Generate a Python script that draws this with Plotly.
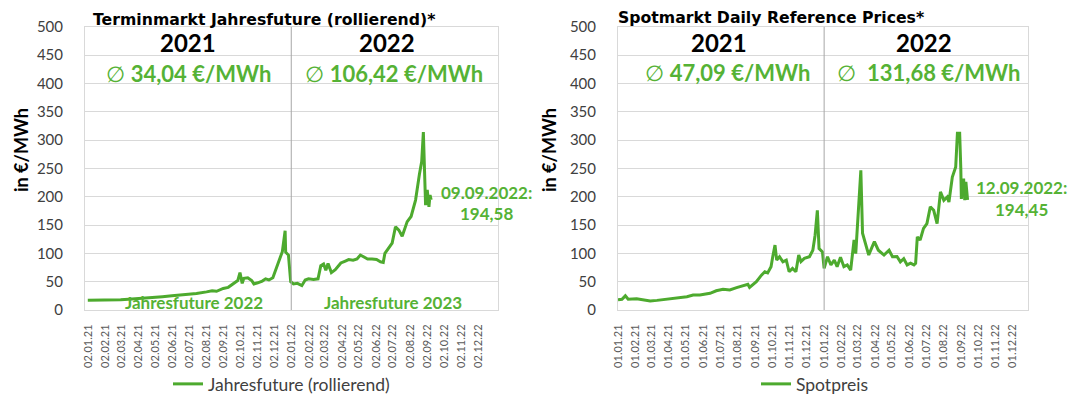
import pandas as pd
import plotly.graph_objects as go

W, H = 1068, 396
GREEN = "#4DAA2E"
GREEN_TXT = "#55B235"
GRID = "#D9D9D9"
AXIS_TXT = "#404040"
FONT = "Lato"
TITLE_FONT = "DejaVu Sans"

# Jahresfuture (rollierend), EUR/MWh
future_dates = [
    "2021-01-01", "2021-01-15", "2021-02-01", "2021-02-15", "2021-03-01", "2021-03-15",
    "2021-04-01", "2021-04-15", "2021-05-01", "2021-05-15", "2021-06-01", "2021-06-15",
    "2021-07-01", "2021-07-15", "2021-08-02", "2021-08-12", "2021-08-20", "2021-09-01",
    "2021-09-10", "2021-09-20", "2021-09-27", "2021-10-01", "2021-10-05", "2021-10-08",
    "2021-10-15", "2021-10-22", "2021-10-26", "2021-11-02", "2021-11-10", "2021-11-16",
    "2021-11-22", "2021-11-29", "2021-12-03", "2021-12-08", "2021-12-13", "2021-12-16",
    "2021-12-21", "2021-12-22", "2021-12-27", "2021-12-31", "2022-01-05", "2022-01-12",
    "2022-01-20", "2022-01-26", "2022-02-01", "2022-02-10", "2022-02-18", "2022-02-23",
    "2022-02-28", "2022-03-04", "2022-03-08", "2022-03-14", "2022-03-21", "2022-03-28",
    "2022-03-31", "2022-04-07", "2022-04-14", "2022-04-22", "2022-04-29", "2022-05-05",
    "2022-05-12", "2022-05-18", "2022-05-26", "2022-06-03", "2022-06-10", "2022-06-15",
    "2022-06-18", "2022-06-25", "2022-07-01", "2022-07-07", "2022-07-13", "2022-07-19",
    "2022-07-28", "2022-08-04", "2022-08-12", "2022-08-19", "2022-08-23", "2022-08-26",
    "2022-08-30", "2022-09-02", "2022-09-05", "2022-09-07", "2022-09-09",
]
future_values = [
    17, 17, 17.5, 17.5, 18, 19,
    20, 21, 22, 23.5, 25, 26,
    27.5, 29, 32, 34, 33, 38,
    40, 47, 52, 66, 47, 56,
    57, 52, 46, 48, 51, 55,
    53, 57, 68, 80, 95, 103,
    140, 102, 97, 50, 46, 47,
    43, 53, 55, 54, 55, 78,
    81, 70, 82, 66, 71, 80,
    83, 86, 89, 88, 90, 97,
    93, 90, 90, 89, 85, 84,
    100, 109, 118, 147, 141, 130,
    156, 165, 194, 240, 262, 314,
    185, 212, 182, 203, 194.58,
]

# Spotpreis (Daily Reference Price), EUR/MWh
spot_dates = [
    "2021-01-01", "2021-01-08", "2021-01-14", "2021-01-19", "2021-02-03", "2021-02-15",
    "2021-02-27", "2021-03-11", "2021-03-28", "2021-04-15", "2021-05-03", "2021-05-14",
    "2021-05-26", "2021-06-13", "2021-06-24", "2021-07-06", "2021-07-18", "2021-07-30",
    "2021-08-11", "2021-08-19", "2021-08-22", "2021-09-03", "2021-09-12", "2021-09-18",
    "2021-09-23", "2021-09-29", "2021-10-02", "2021-10-06", "2021-10-09", "2021-10-14",
    "2021-10-20", "2021-10-26", "2021-10-31", "2021-11-06", "2021-11-12", "2021-11-17",
    "2021-11-21", "2021-11-27", "2021-12-06", "2021-12-12", "2021-12-16", "2021-12-20",
    "2021-12-23", "2021-12-29", "2022-01-01", "2022-01-07", "2022-01-13", "2022-01-19",
    "2022-01-24", "2022-01-30", "2022-02-05", "2022-02-11", "2022-02-17", "2022-02-23",
    "2022-02-26", "2022-03-02", "2022-03-07", "2022-03-10", "2022-03-15", "2022-03-21",
    "2022-03-27", "2022-03-31", "2022-04-07", "2022-04-17", "2022-04-26", "2022-05-02",
    "2022-05-10", "2022-05-16", "2022-05-22", "2022-05-28", "2022-06-03", "2022-06-09",
    "2022-06-12", "2022-06-15", "2022-06-20", "2022-06-26", "2022-07-02", "2022-07-08",
    "2022-07-14", "2022-07-20", "2022-07-26", "2022-08-01", "2022-08-07", "2022-08-10",
    "2022-08-16", "2022-08-22", "2022-08-25", "2022-08-29", "2022-08-31", "2022-09-01",
    "2022-09-05", "2022-09-07", "2022-09-09", "2022-09-12",
]
spot_values = [
    18, 19, 25, 19, 20, 18,
    16, 17, 19.5, 21.5, 23.5, 26.5,
    26.5, 29.5, 34, 36.5, 35.5, 39.5,
    42.5, 45.5, 40, 50, 61.5, 67.5,
    65.5, 76.5, 94, 114.5, 88, 94,
    85, 88, 67.5, 73.5, 67.5, 97,
    85.5, 91, 94, 105.5, 132, 176,
    108.5, 102.5, 73.5, 94, 79.5, 88,
    76.5, 93, 76.5, 79.5, 70.5, 123.5,
    99.5, 170.5, 246.5, 135.5, 117.5, 97,
    111.5, 120.5, 105.5, 97, 105.5, 94,
    94.5, 85, 90.5, 79.5, 82.5, 79.5,
    82.5, 129, 123.5, 144, 152.5, 182,
    176, 152.5, 208.5, 193.5, 199.5, 190.5,
    234.5, 252.5, 312, 312, 250, 196,
    232, 194, 226, 194.45,
]

future_ticks = ["02.01.21", "02.02.21", "02.03.21", "02.04.21", "02.05.21", "02.06.21",
                "02.07.21", "02.08.21", "02.09.21", "02.10.21", "02.11.21", "02.12.21",
                "02.01.22", "02.02.22", "02.03.22", "02.04.22", "02.05.22", "02.06.22",
                "02.07.22", "02.08.22", "02.09.22", "02.10.22", "02.11.22", "02.12.22"]
spot_ticks = ["01.01.21", "01.02.21", "01.03.21", "01.04.21", "01.05.21", "01.06.21",
              "01.07.21", "01.08.21", "01.09.21", "01.10.21", "01.11.21", "01.12.21",
              "01.01.22", "01.02.22", "01.03.22", "01.04.22", "01.05.22", "01.06.22",
              "01.07.22", "01.08.22", "01.09.22", "01.10.22", "01.11.22", "01.12.22"]

years = ["2021", "2022"]
future_avg = ["34,04 €/MWh", "106,42 €/MWh"]
spot_avg = ["47,09 €/MWh", " 131,68 €/MWh"]
future_last = ["09.09.2022:", "194,58"]
spot_last = ["12.09.2022:", "194,45"]
year_split = "2022-01-01"


def px_x(x):
    return x / W


def px_y(y):
    return 1 - y / H


def tick_dates(labels):
    return [pd.to_datetime(t, format="%d.%m.%y") for t in labels]


fig = go.Figure()
fig.add_trace(go.Scatter(
    x=pd.to_datetime(future_dates), y=future_values, mode="lines",
    name="Jahresfuture (rollierend)", line=dict(color=GREEN, width=3),
    xaxis="x", yaxis="y", legend="legend"))
fig.add_trace(go.Scatter(
    x=pd.to_datetime(spot_dates), y=spot_values, mode="lines",
    name="Spotpreis", line=dict(color=GREEN, width=3),
    xaxis="x2", yaxis="y2", legend="legend2"))

y_dom = [px_y(310), px_y(26.7)]
common_x = dict(type="date", showgrid=False, showline=True, linecolor=GRID, mirror=True,
                tickangle=-90, tickfont=dict(family=FONT, size=11, color="#595959"),
                ticks="", ticklabelstandoff=9, zeroline=False)
common_y = dict(range=[0, 500], dtick=50, showgrid=True, gridcolor=GRID, gridwidth=1,
                showline=True, linecolor=GRID, mirror=True, zeroline=False, ticks="",
                tickfont=dict(family=FONT, size=15, color=AXIS_TXT), ticklabelstandoff=18)
legend_style = dict(yanchor="middle", xanchor="left", orientation="h", itemwidth=30,
                    bgcolor="rgba(0,0,0,0)", font=dict(family=FONT, size=17.5, color=AXIS_TXT))

fig.update_layout(
    width=W, height=H, margin=dict(l=0, r=0, t=0, b=0, autoexpand=False),
    paper_bgcolor="white", plot_bgcolor="white",
    xaxis=dict(domain=[px_x(85), px_x(497.5)], range=["2020-12-27", "2023-01-06"],
               tickvals=tick_dates(future_ticks), ticktext=future_ticks, anchor="y", **common_x),
    yaxis=dict(domain=y_dom, anchor="x", **common_y),
    xaxis2=dict(domain=[px_x(618), px_x(1028)], range=["2021-01-01", "2022-12-28"],
                tickvals=tick_dates(spot_ticks), ticktext=spot_ticks, anchor="y2", **common_x),
    yaxis2=dict(domain=y_dom, anchor="x2", **common_y),
    legend=dict(x=px_x(168), y=px_y(384), **legend_style),
    legend2=dict(x=px_x(756), y=px_y(384), **legend_style),
    showlegend=True,
)

# year separator
for xr, yr in (("x", "y"), ("x2", "y2")):
    fig.add_shape(type="line", xref=xr, yref=yr, x0=year_split, x1=year_split,
                  y0=0, y1=500, line=dict(color="#A6A6A6", width=1))

ann = []


def text(x, y, s, size, color, bold=True, family=FONT, xanchor="center", angle=0):
    ann.append(dict(x=px_x(x), y=px_y(y), xref="paper", yref="paper", text=s,
                    showarrow=False, xanchor=xanchor, yanchor="middle", textangle=angle,
                    font=dict(family=family, size=size, color=color,
                              weight="bold" if bold else "normal")))


# panel titles
text(91, 19, "Terminmarkt Jahresfuture (rollierend)*", 15.7, "#000000",
     family=TITLE_FONT, xanchor="left")
text(616, 17, "Spotmarkt Daily Reference Prices*", 15.7, "#000000",
     family=TITLE_FONT, xanchor="left")

# year headings and averages
for cx, yr in zip((188, 387), years):
    text(cx, 43, yr, 24, "#000000")
for cx, avg in zip((188, 394), future_avg):
    text(cx, 73, "\u2205 <b>" + avg + "</b>", 22, GREEN_TXT, bold=False)
for cx, yr in zip((719, 924), years):
    text(cx, 43, yr, 24, "#000000")
for cx, avg in zip((727, 928), spot_avg):
    text(cx, 72, "\u2205 <b>" + avg + "</b>", 22, GREEN_TXT, bold=False)

# y axis titles
text(21, 150, "in €/MWh", 18, "#000000", angle=-90)
text(549, 150, "in €/MWh", 18, "#000000", angle=-90)

# contract labels
text(194, 302, "Jahresfuture 2022", 17, GREEN_TXT)
text(393, 302, "Jahresfuture 2023", 17, GREEN_TXT)

# latest values
text(486, 192, future_last[0], 17, GREEN_TXT)
text(486, 213, future_last[1], 17, GREEN_TXT)
text(1021, 188, spot_last[0], 17, GREEN_TXT)
text(1021, 209, spot_last[1], 17, GREEN_TXT)

fig.update_layout(annotations=ann)
fig.write_html("out.html")
